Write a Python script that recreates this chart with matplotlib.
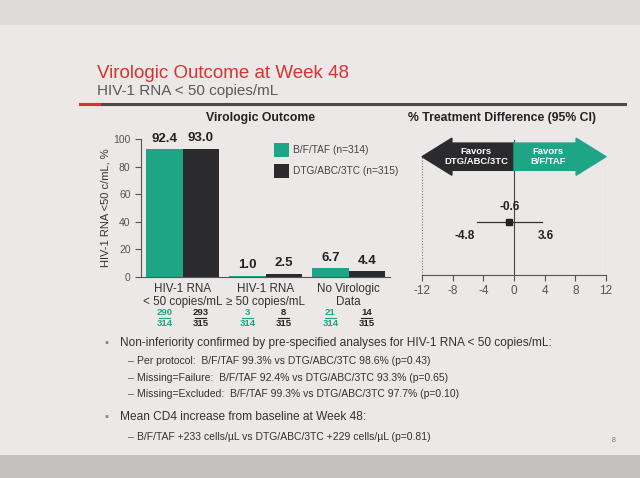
import matplotlib.pyplot as plt
from matplotlib.patches import FancyArrow, Rectangle
from matplotlib.lines import Line2D
import matplotlib.transforms as mtransforms

plt.rcParams['font.family'] = ['Liberation Sans', 'DejaVu Sans']

# Data
categories = ['HIV-1 RNA\n< 50 copies/mL', 'HIV-1 RNA\n\u2265 50 copies/mL', 'No Virologic\nData']
bft_values = [92.4, 1.0, 6.7]
dtg_values = [93.0, 2.5, 4.4]
bft_num = [290, 3, 21]
bft_den = [314, 314, 314]
dtg_num = [293, 8, 14]
dtg_den = [315, 315, 315]
series_labels = ['B/F/TAF (n=314)', 'DTG/ABC/3TC (n=315)']

diff_est = -0.6
diff_lo = -4.8
diff_hi = 3.6
diff_ticks = [-12, -8, -4, 0, 4, 8, 12]

bullets = [
    ('main', 'Non-inferiority confirmed by pre-specified analyses for HIV-1 RNA < 50 copies/mL:'),
    ('sub', 'Per protocol:  B/F/TAF 99.3% vs DTG/ABC/3TC 98.6% (p=0.43)'),
    ('sub', 'Missing=Failure:  B/F/TAF 92.4% vs DTG/ABC/3TC 93.3% (p=0.65)'),
    ('sub', 'Missing=Excluded:  B/F/TAF 99.3% vs DTG/ABC/3TC 97.7% (p=0.10)'),
    ('main', 'Mean CD4 increase from baseline at Week 48:'),
    ('sub', 'B/F/TAF +233 cells/\u00b5L vs DTG/ABC/3TC +229 cells/\u00b5L (p=0.81)'),
]

green = '#1ea585'
dark = '#2b2b2d'
grey_text = '#555555'
red = '#d8322f'

W, H = 640, 478
fig = plt.figure(figsize=(6.4, 4.78), dpi=100, facecolor='#ebe8e7')


def fx(x):
    return x / W


def fy(y):
    return 1 - y / H


# slide frame bands
fig.patches.append(Rectangle((0, 0), 1, 1 - 455 / H, transform=fig.transFigure,
                             facecolor='#c4c1bf', edgecolor='none', zorder=0))
fig.patches.append(Rectangle((0, fy(25)), 1, 25 / H, transform=fig.transFigure,
                             facecolor='#dedad9', edgecolor='none', zorder=0))

# header
fig.text(fx(97), fy(73), 'Virologic Outcome at Week 48', color=red, fontsize=13.5, va='center')
fig.text(fx(97), fy(91), 'HIV-1 RNA < 50 copies/mL', color='#5a5a5a', fontsize=11, va='center')
fig.lines.append(Line2D([fx(80), fx(100)], [fy(103.5)] * 2, color=red, lw=2.2,
                        transform=fig.transFigure))
fig.lines.append(Line2D([fx(102), fx(625)], [fy(103.5)] * 2, color='#4a4a4a', lw=2.2,
                        transform=fig.transFigure))

# ---------- bar chart ----------
ax = fig.add_axes([fx(141), fy(277), fx(390) - fx(141), (277 - 139) / H])
ax.set_facecolor('none')
x = list(range(len(categories)))
bw = 0.437
ax.bar([i - bw / 2 for i in x], bft_values, width=bw, color=green)
ax.bar([i + bw / 2 for i in x], dtg_values, width=bw, color=dark)
ax.set_xlim(-0.5, 2.5)
ax.set_ylim(0, 100)
ax.set_yticks([0, 20, 40, 60, 80, 100])
ax.tick_params(axis='y', labelsize=7.5, labelcolor=grey_text, color=grey_text, length=4, width=0.8)
ax.set_xticks(x)
ax.set_xticklabels(categories, fontsize=8.4, color='#333333', linespacing=1.15)
ax.tick_params(axis='x', length=0, pad=4)
for s in ['top', 'right']:
    ax.spines[s].set_visible(False)
for s in ['left', 'bottom']:
    ax.spines[s].set_color(grey_text)
    ax.spines[s].set_linewidth(0.8)
ax.set_ylabel('HIV-1 RNA <50 c/mL, %', fontsize=8, color='#333333', labelpad=2)
fig.text(fx(261), fy(118), 'Virologic Outcome', fontsize=8.8, fontweight='bold',
         color='#222222', ha='center', va='center')

for i in x:
    for off, val in ((-bw / 2, bft_values[i]), (bw / 2, dtg_values[i])):
        ax.annotate(f'{val:.1f}', (i + off, val), xytext=(0, 3), textcoords='offset points',
                    ha='center', va='bottom', fontsize=9.5, fontweight='bold', color='#222222')

trans = mtransforms.blended_transform_factory(ax.transData, ax.transAxes)
frac_y = -(317 - 277) / 138
for i in x:
    for off, num, den, col in ((-bw / 2, bft_num[i], bft_den[i], green),
                               (bw / 2, dtg_num[i], dtg_den[i], '#222222')):
        ax.text(i + off, frac_y + 0.002, str(num), transform=trans, ha='center', va='bottom',
                fontsize=6.8, fontweight='bold', color=col)
        ax.text(i + off, frac_y - 0.012, str(den), transform=trans, ha='center', va='top',
                fontsize=6.8, fontweight='bold', color=col)
        ax.plot([i + off - 0.07, i + off + 0.07], [frac_y - 0.005] * 2, transform=trans,
                color=col, lw=0.8, clip_on=False)

# legend
for k, (lab, col) in enumerate(zip(series_labels, [green, dark])):
    yc = 150 + k * 21
    fig.patches.append(Rectangle((fx(274), fy(yc + 7)), 15 / W, 14 / H, transform=fig.transFigure,
                                 facecolor=col, edgecolor='none'))
    fig.text(fx(293), fy(yc), lab, fontsize=7.3, color='#444444', va='center')

# ---------- forest plot ----------
ax2 = fig.add_axes([fx(422), fy(275), fx(606) - fx(422), 140 / H])
ax2.set_facecolor('none')
ax2.set_xlim(-12, 12)
ax2.set_ylim(0, 1)
for s in ['top', 'right', 'left']:
    ax2.spines[s].set_visible(False)
ax2.spines['bottom'].set_color(grey_text)
ax2.spines['bottom'].set_linewidth(0.8)
ax2.set_yticks([])
ax2.set_xticks(diff_ticks)
ax2.set_xticklabels([str(t) for t in diff_ticks], fontsize=8.5, color=grey_text)
ax2.tick_params(axis='x', color=grey_text, length=4, width=0.8, pad=3)
fig.text(fx(502), fy(118), '% Treatment Difference (95% CI)', fontsize=8.8, fontweight='bold',
         color='#222222', ha='center', va='center')

ax2.axvline(0, ymin=0, ymax=0.965, color='#444444', lw=0.8, zorder=1)
for t in (diff_ticks[0], diff_ticks[-1]):
    ax2.axvline(t, ymin=0, ymax=0.845, color='#777777', lw=0.8, ls=(0, (1, 1.5)), zorder=1)

ya = 0.845
ax2.add_patch(FancyArrow(0, ya, diff_ticks[0], 0, width=0.195, head_width=0.265,
                         head_length=3.9, length_includes_head=True, color=dark,
                         clip_on=False, zorder=2))
ax2.add_patch(FancyArrow(0, ya, diff_ticks[-1], 0, width=0.195, head_width=0.265,
                         head_length=3.9, length_includes_head=True, color=green,
                         clip_on=False, zorder=2))
ax2.text(-4.9, ya, 'Favors\nDTG/ABC/3TC', ha='center', va='center', fontsize=6.8,
         fontweight='bold', color='white', linespacing=1.2, zorder=3)
ax2.text(4.4, ya, 'Favors\nB/F/TAF', ha='center', va='center', fontsize=6.8,
         fontweight='bold', color='white', linespacing=1.2, zorder=3)

yp = 0.38
ax2.plot([diff_lo, diff_hi], [yp, yp], color='#333333', lw=0.9, zorder=3)
ax2.plot([diff_est], [yp], marker='s', ms=5, color='#222222', zorder=4)
ax2.text(diff_est, yp + 0.06, f'{diff_est:.1f}', ha='center', va='bottom', fontsize=8.5,
         fontweight='bold', color='#222222')
ax2.text(diff_lo - 0.3, yp - 0.06, f'{diff_lo:.1f}', ha='right', va='top', fontsize=8.5,
         fontweight='bold', color='#222222')
ax2.text(diff_hi + 0.5, yp - 0.06, f'{diff_hi:.1f}', ha='center', va='top', fontsize=8.5,
         fontweight='bold', color='#222222')

# ---------- bullets ----------
ys = [343, 361, 378, 394, 417, 437]
for (kind, txt), yy in zip(bullets, ys):
    if kind == 'main':
        fig.text(fx(104), fy(yy), '\u25aa', fontsize=8, color='#888888', va='center')
        fig.text(fx(120), fy(yy), txt, fontsize=8.6, color='#333333', va='center')
    else:
        fig.text(fx(128), fy(yy), '\u2013', fontsize=7.5, color='#555555', va='center')
        fig.text(fx(137), fy(yy), txt, fontsize=7.5, color='#333333', va='center')

fig.text(fx(612), fy(441), '8', fontsize=5, color='#777777', va='center')

fig.savefig('out.png', dpi=100, facecolor=fig.get_facecolor())
